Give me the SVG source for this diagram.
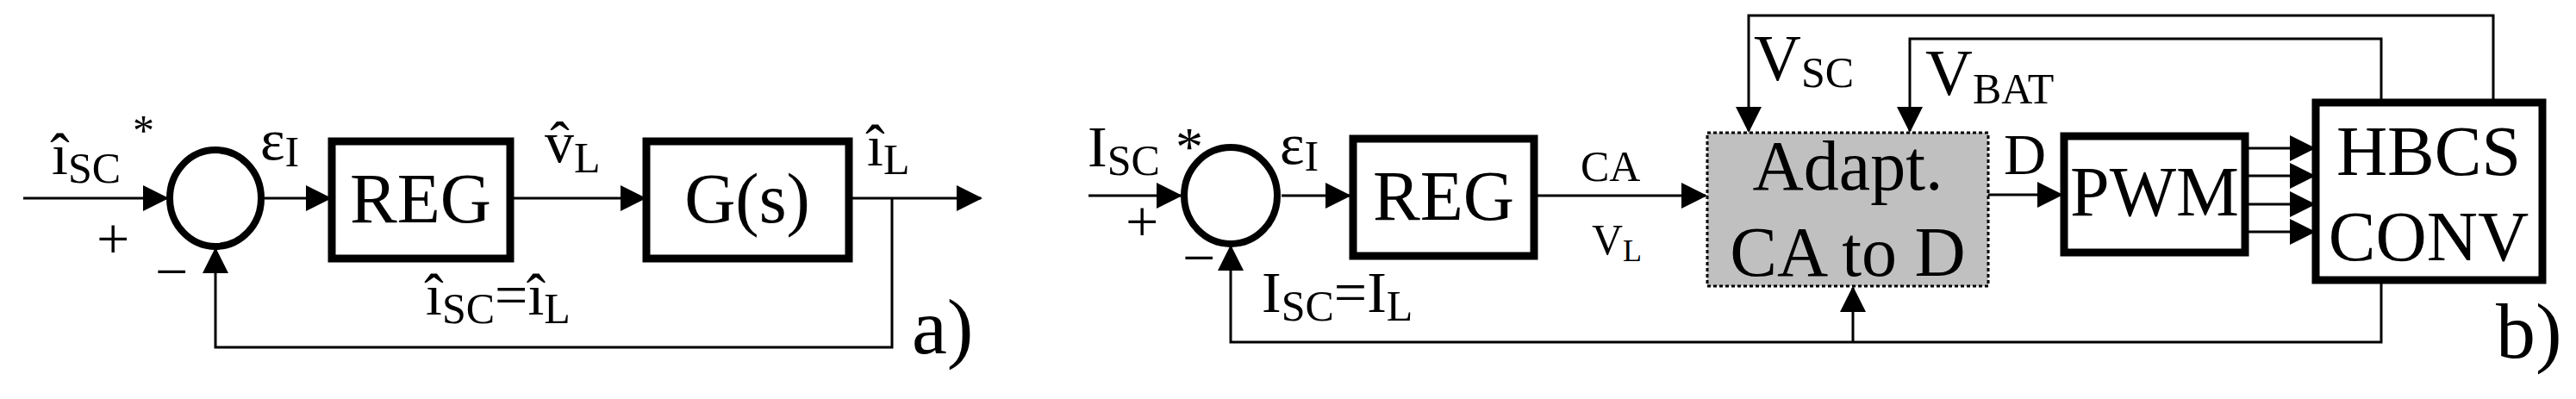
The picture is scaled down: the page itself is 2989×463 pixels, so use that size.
<svg xmlns="http://www.w3.org/2000/svg" width="2989" height="463" viewBox="0 0 2989 463">
<defs>
<marker id="ah" markerWidth="10" markerHeight="8" refX="10" refY="4" orient="auto" markerUnits="userSpaceOnUse" viewBox="0 0 10 8"><path d="M0,0 L10,4 L0,8 z" fill="#000"/></marker>
<style>
.l{stroke:#000;stroke-width:3;fill:none}
.a{stroke:#000;stroke-width:3;fill:none;marker-end:url(#ah)}
.b{fill:#fff;stroke:#000;stroke-width:9}
.t{font-family:"Liberation Serif",serif;fill:#000}
.big{font-size:82px}
.lab{font-size:68px}
.sub{font-size:50px}
</style>
</defs>
<marker id="h" markerWidth="30" markerHeight="30" refX="28" refY="15" orient="auto" markerUnits="userSpaceOnUse" viewBox="0 0 30 30"><path d="M0,0 L30,15 L0,30 z" fill="#000"/></marker>
<style>.a{marker-end:url(#h)}</style>
<g id="connectors">
<path class="a" d="M27,230 H194"/>
<path class="a" d="M307,230 H383"/>
<path class="a" d="M592,230 H748"/>
<path class="a" d="M985,230 H1138"/>
<path class="a" d="M1035,230 V403 H250 V289"/>
<path class="a" d="M1263,227 H1370"/>
<path class="a" d="M1487,227 H1566"/>
<path class="a" d="M1780,227 H1979"/>
<path class="a" d="M2893,117 V18 H2029 V152"/>
<path class="a" d="M2763,117 V45 H2216 V152"/>
<path class="a" d="M2307,226 H2392"/>
<path class="a" d="M2605,172 H2685"/>
<path class="a" d="M2605,204 H2685"/>
<path class="a" d="M2605,237 H2685"/>
<path class="a" d="M2605,269 H2685"/>
<path class="a" d="M2763,325 V397 H1428 V286"/>
<path class="a" d="M2150,397 V334"/>
</g>
<g id="sum_a"><ellipse cx="250" cy="230" rx="53" ry="56" fill="#fff" stroke="#000" stroke-width="8"/></g>
<g id="reg_a"><rect class="b" x="385" y="164" width="207" height="136"/><text class="t big" x="488" y="258" text-anchor="middle">REG</text></g>
<g id="gs_a"><rect class="b" x="750" y="164" width="235" height="136"/><text class="t big" x="867" y="258" text-anchor="middle">G(s)</text></g>
<g id="sum_b"><ellipse cx="1428" cy="227" rx="54" ry="56" fill="#fff" stroke="#000" stroke-width="8"/></g>
<g id="reg_b"><rect class="b" x="1570" y="161" width="210" height="136"/><text class="t big" x="1675" y="255" text-anchor="middle">REG</text></g>
<g id="adapt"><rect x="1981" y="154" width="326" height="178" fill="#c0c0c0" stroke="#000" stroke-width="3" stroke-dasharray="4,3"/><text class="t big" x="2144" y="220" text-anchor="middle">Adapt.</text><text class="t big" x="2144" y="320" text-anchor="middle">CA to D</text></g>
<g id="pwm"><rect class="b" x="2395" y="158" width="210" height="135"/><text class="t big" x="2500" y="250" text-anchor="middle">PWM</text></g>
<g id="hbcs"><rect class="b" x="2687" y="119" width="263" height="206"/><text class="t big" x="2818" y="203" text-anchor="middle">HBCS</text><text class="t big" x="2818" y="302" text-anchor="middle">CONV</text></g>
<g id="labels">
<text class="t lab" x="60" y="202">î<tspan class="sub" dy="10">SC</tspan></text>
<text class="t sub" x="154" y="168">*</text>
<text class="t lab" x="112" y="300">+</text>
<text class="t lab" x="180" y="338">−</text>
<text class="t lab" x="302" y="185">ε<tspan class="sub" dy="8">I</tspan></text>
<text class="t lab" x="632" y="188">v̂<tspan class="sub" dy="12">L</tspan></text>
<text class="t lab" x="1006" y="192">î<tspan class="sub" dy="10">L</tspan></text>
<text class="t lab" x="494" y="365">î<tspan class="sub" dy="10">SC</tspan><tspan dy="-10">=î</tspan><tspan class="sub" dy="10">L</tspan></text>
<text class="t" font-size="92" x="1058" y="410">a)</text>
<text class="t lab" x="1262" y="193">I<tspan class="sub" dy="10">SC</tspan></text>
<text class="t" font-size="64" x="1364" y="192">*</text>
<text class="t lab" x="1306" y="280">+</text>
<text class="t lab" x="1372" y="322">−</text>
<text class="t lab" x="1485" y="190">ε<tspan class="sub" dy="8">I</tspan></text>
<text class="t sub" x="1834" y="210">CA</text>
<text class="t sub" x="1847" y="295">V<tspan font-size="36" dy="8">L</tspan></text>
<text class="t lab" x="1464" y="362">I<tspan class="sub" dy="10">SC</tspan><tspan dy="-10">=I</tspan><tspan class="sub" dy="10">L</tspan></text>
<text class="t" font-size="76" x="2035" y="93">V<tspan class="sub" dy="8">SC</tspan></text>
<text class="t" font-size="76" x="2234" y="110">V<tspan class="sub" dy="10">BAT</tspan></text>
<text class="t lab" x="2325" y="202">D</text>
<text class="t" font-size="92" x="2896" y="415">b)</text>
</g>
</svg>
